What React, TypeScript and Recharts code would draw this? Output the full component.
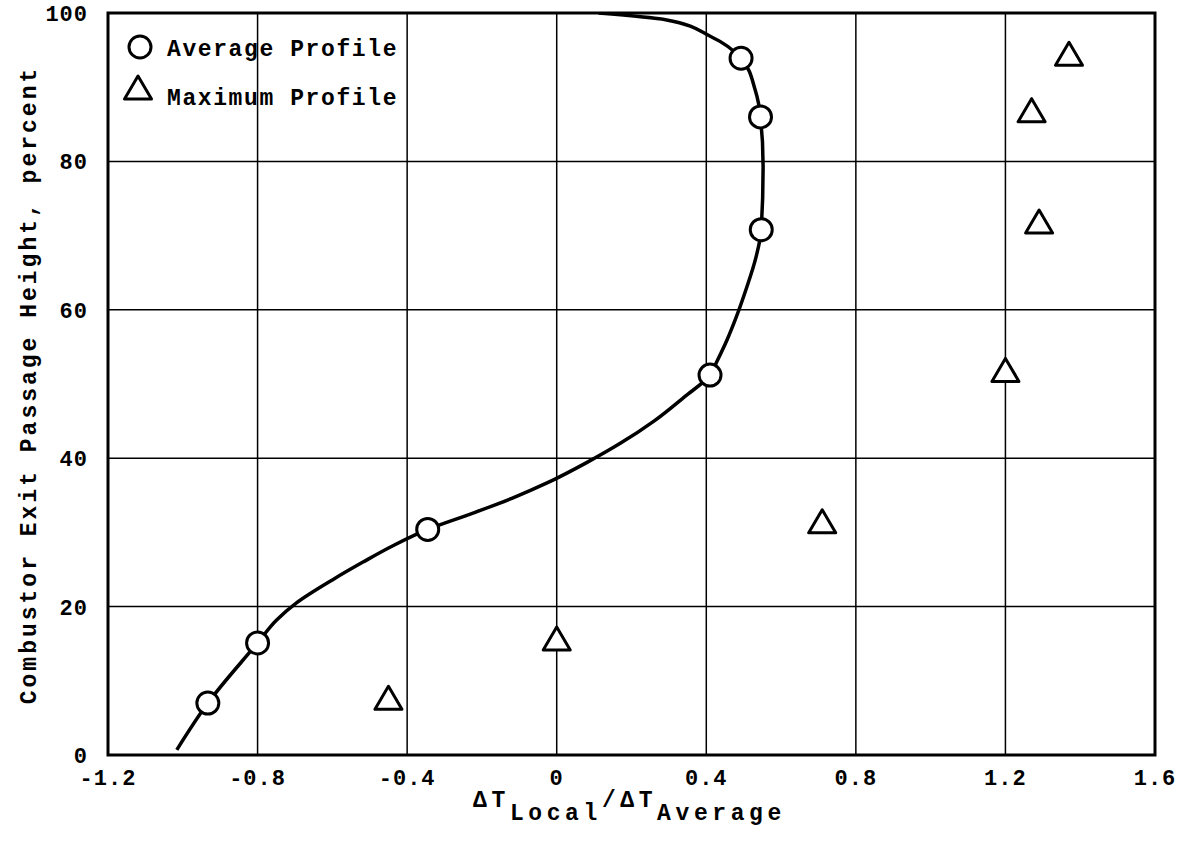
import React from 'react';
import {
  ComposedChart,
  Line,
  Scatter,
  XAxis,
  YAxis,
  CartesianGrid,
  ReferenceArea,
} from 'recharts';

// Average profile (circles)
const avgX = [-0.933, -0.8, -0.345, 0.41, 0.547, 0.545, 0.493];
const avgY = [7, 15.1, 30.4, 51.2, 70.8, 86, 93.9];

// Maximum profile (triangles)
const maxX = [-0.45, 0.0, 0.71, 1.2, 1.29, 1.27, 1.37];
const maxY = [7.5, 15.5, 31.3, 51.7, 71.7, 86.7, 94.3];

// Faired curve through the average profile
const curveX = [-1.016, -0.933, -0.8, -0.749, -0.696, -0.6, -0.518, -0.438, -0.345, -0.224, -0.12, -0.02, 0.08, 0.17, 0.26, 0.34, 0.41, 0.428, 0.456, 0.477, 0.508, 0.533, 0.547, 0.552, 0.545, 0.531, 0.493, 0.413, 0.291, 0.112];
const curveY = [0.7, 7, 15.1, 18.2, 20.5, 23.6, 26.0, 28.2, 30.4, 32.6, 34.6, 36.8, 39.4, 42.0, 45.0, 48.2, 51.2, 53, 56, 58.6, 63, 67.1, 70.8, 79.3, 86, 89.6, 93.9, 96.8, 99.1, 100];

const xTicks = [-1.2, -0.8, -0.4, 0, 0.4, 0.8, 1.2, 1.6];
const yTicks = [0, 20, 40, 60, 80, 100];

const xLabelParts = { main1: 'ΔT', sub1: 'Local', sep: '/', main2: 'ΔT', sub2: 'Average' };
const yLabel = 'Combustor Exit Passage Height, percent';
const legendLabels = ['Average Profile', 'Maximum Profile'];

const avgData = avgX.map((x, i) => ({ x, y: avgY[i] }));
const maxData = maxX.map((x, i) => ({ x, y: maxY[i] }));
const curveData = curveX.map((x, i) => ({ x, y: curveY[i] }));

const FONT = "'Liberation Mono', 'Courier New', monospace";
const WEIGHT = 'bold';

const fmtX = (v: number) => (v === 0 ? '0' : v.toFixed(1));

const CircleShape = (p: any) => (
  <circle cx={p.cx} cy={p.cy} r={11} fill="#fff" stroke="#000" strokeWidth={3} />
);

const TriShape = (p: any) => {
  const { cx, cy } = p;
  const pts = `${cx},${cy - 13} ${cx - 13.5},${cy + 10} ${cx + 13.5},${cy + 10}`;
  return <polygon points={pts} fill="#fff" stroke="#000" strokeWidth={3} strokeLinejoin="round" />;
};

const XTick = (p: any) => (
  <text x={p.x} y={p.y + 30} textAnchor="middle" fontFamily={FONT} fontWeight={WEIGHT} fontSize={22} letterSpacing={1} fill="#000">
    {fmtX(p.payload.value)}
  </text>
);

const YTick = (p: any) => (
  <text x={p.x} y={p.y + 8} textAnchor="end" fontFamily={FONT} fontWeight={WEIGHT} fontSize={22} letterSpacing={1} fill="#000">
    {p.payload.value}
  </text>
);

const XLabel = (props: any) => {
  const vb = props.viewBox || { x: 108, width: 1047, y: 755 };
  const cx = vb.x + vb.width / 2 - 2;
  return (
    <text x={cx} y={807} textAnchor="middle" fontFamily={FONT} fontWeight={WEIGHT} fontSize={23} letterSpacing={4.6} fill="#000">
      <tspan>{xLabelParts.main1}</tspan>
      <tspan dy={13}>{xLabelParts.sub1}</tspan>
      <tspan dy={-13}>{xLabelParts.sep}</tspan>
      <tspan>{xLabelParts.main2}</tspan>
      <tspan dy={13}>{xLabelParts.sub2}</tspan>
    </text>
  );
};

const YLabel = () => (
  <text
    x={30}
    y={385}
    transform="rotate(-90 30 385)"
    textAnchor="middle"
    dominantBaseline="central"
    fontFamily={FONT}
    fontWeight={WEIGHT}
    fontSize={23}
    letterSpacing={3}
    fill="#000"
  >
    {yLabel}
  </text>
);

const LegendBox = () => (
  <svg width={420} height={120} style={{ position: 'absolute', left: 0, top: 0, pointerEvents: 'none' }}>
    <circle cx={140} cy={47} r={11} fill="#fff" stroke="#000" strokeWidth={3} />
    <text x={167} y={56} fontFamily={FONT} fontWeight={WEIGHT} fontSize={23} letterSpacing={1.6} fill="#000">
      {legendLabels[0]}
    </text>
    <polygon points="138,76 124.5,99 151.5,99" fill="#fff" stroke="#000" strokeWidth={3} strokeLinejoin="round" />
    <text x={167} y={105} fontFamily={FONT} fontWeight={WEIGHT} fontSize={23} letterSpacing={1.6} fill="#000">
      {legendLabels[1]}
    </text>
  </svg>
);

export default function App() {
  return (
    <div style={{ position: 'absolute', left: 0, top: 0, width: 1183, height: 855, background: '#fff' }}>
      <ComposedChart
        width={1183}
        height={855}
        margin={{ top: 13, right: 28, bottom: 60, left: 48 }}
      >
        <CartesianGrid stroke="#000" strokeWidth={1.5} />
        <XAxis
          type="number"
          dataKey="x"
          domain={[-1.2, 1.6]}
          ticks={xTicks}
          height={40}
          axisLine={false}
          tickLine={false}
          tickSize={0}
          tickMargin={0}
          tick={<XTick />}
          interval={0}
          allowDataOverflow
          label={<XLabel />}
        />
        <YAxis
          type="number"
          dataKey="y"
          domain={[0, 100]}
          ticks={yTicks}
          width={60}
          axisLine={false}
          tickLine={false}
          tickSize={0}
          tickMargin={20}
          tick={<YTick />}
          interval={0}
          allowDataOverflow
          label={<YLabel />}
        />
        <ReferenceArea x1={-1.2} x2={1.6} y1={0} y2={100} fill="none" stroke="#000" strokeWidth={3} ifOverflow="visible" />
        <Line
          data={curveData}
          dataKey="y"
          type="monotoneY"
          stroke="#000"
          strokeWidth={3.5}
          dot={false}
          activeDot={false}
          isAnimationActive={false}
          legendType="none"
        />
        <Scatter data={maxData} dataKey="y" shape={<TriShape />} isAnimationActive={false} />
        <Scatter data={avgData} dataKey="y" shape={<CircleShape />} isAnimationActive={false} />
      </ComposedChart>
      <LegendBox />
    </div>
  );
}
